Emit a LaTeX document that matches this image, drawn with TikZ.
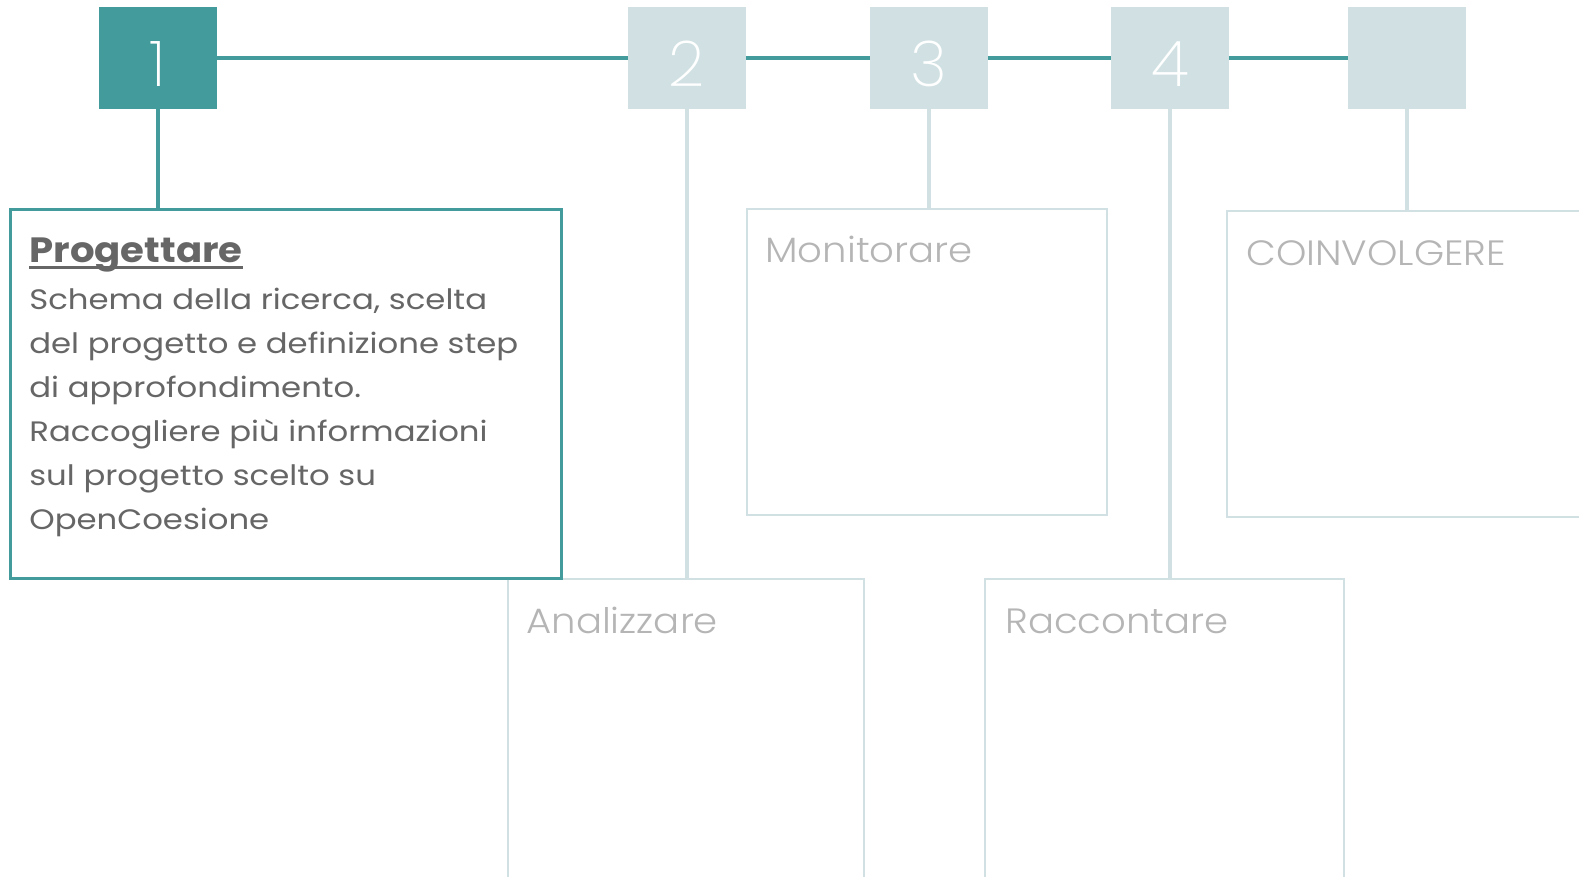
\documentclass[tikz,border=0pt]{standalone}
\usepackage{fontspec}
\setmainfont{Poppins}
\newfontfamily\bodyfont[FakeStretch=1.15]{Poppins}
\newfontfamily\headfont[FakeStretch=1.1]{Poppins}
\newfontfamily\lightfont[FakeStretch=1.1]{Poppins Light}
\newfontfamily\thinfont{Poppins ExtraLight}
\definecolor{stepteal}{HTML}{439B9B}
\definecolor{steppale}{HTML}{D1E1E3}
\definecolor{textgray}{HTML}{666666}
\definecolor{titlegray}{HTML}{B5B5B5}
\begin{document}
\begin{tikzpicture}[x=0.02cm, y=-0.02cm,
    stepbox/.style={rectangle, fill=steppale, minimum width=2.36cm, minimum height=2.04cm,
      inner sep=0pt, text=white, font=\thinfont\fontsize{36}{36}\selectfont,
      text height=1.2cm, text depth=0.04cm},
    cardbox/.style={rectangle, draw=steppale, line width=0.04cm, inner sep=0pt},
    cardtitle/.style={inner sep=0pt, text=titlegray, font=\lightfont\fontsize{20}{24}\selectfont},
    bodytext/.style={inner sep=0pt, text=textgray, align=left, font=\bodyfont\fontsize{16}{25}\selectfont},
    paleline/.style={draw=steppale, line width=0.07cm},
    tealline/.style={draw=stepteal, line width=0.08cm}]
                            \path[use as bounding box, fill=white] (0,0) rectangle (1579,876);
                            {

                            % Drawing the steps
                            \node[stepbox, fill=stepteal] (s1) at (158,58) {1};%
                            \node[stepbox] (s2) at (687,58) {2};%
                            \node[stepbox] (s3) at (929,58) {3};%
                            \node[stepbox] (s4) at (1170,58) {4};%
                            \node[stepbox] (s5) at (1407,58) {};%

                            % Drawing line through the steps
                            \draw[tealline] (s1) -- (s2) -- (s3) -- (s4) -- (s5);%

                            % Drawing the cards
                            \node[cardbox, minimum width=7.12cm, minimum height=6.12cm] (analizzare) at (686,732) {};%
                            \node[cardbox, minimum width=7.18cm, minimum height=6.12cm] (raccontare) at (1164.5,732) {};%
                            \node[cardbox, minimum width=7.2cm, minimum height=6.12cm] (monitorare) at (927,362) {};%
                            \node[cardbox, minimum width=7.2cm, minimum height=6.12cm] (coinvolgere) at (1407,364) {};%
                            \node[cardbox, draw=stepteal, line width=0.06cm, minimum width=11.04cm, minimum height=7.4cm] (progettare) at (286,394) {};%

                            % Drawing the connectors
                            \draw[tealline] (s1) -- (s1 |- progettare.north);%
                            \draw[paleline] (s2) -- (s2 |- analizzare.north);%
                            \draw[paleline] (s3) -- (s3 |- monitorare.north);%
                            \draw[paleline] (s4) -- (s4 |- raccontare.north);%
                            \draw[paleline] (s5) -- (s5 |- coinvolgere.north);%

                            % Marking text of card 1
                            \node[bodytext, font=\headfont\bfseries\fontsize{20}{24}\selectfont, anchor=base west] (progettare title) at (29,262) {Progettare};%
                            \draw[textgray, line width=0.06cm] ([yshift=-0.1cm]progettare title.base west) -- ([yshift=-0.1cm]progettare title.base east);%
                            \node[bodytext, anchor=north west] (progettare body) at (29,288) {Schema della ricerca, scelta\\del progetto e definizione step\\di approfondimento.\\Raccogliere più informazioni\\sul progetto scelto su\\OpenCoesione};%

                            % Marking the other card titles
                            \node[cardtitle, anchor=base west] (monitorare title) at (765,262) {Monitorare};%
                            \node[cardtitle, anchor=base west] (coinvolgere title) at (1246,265) {COINVOLGERE};%
                            \node[cardtitle, anchor=base west] (analizzare title) at (526,633) {Analizzare};%
                            \node[cardtitle, anchor=base west] (raccontare title) at (1005,633) {Raccontare};%
                            }
\end{tikzpicture}
\end{document}
